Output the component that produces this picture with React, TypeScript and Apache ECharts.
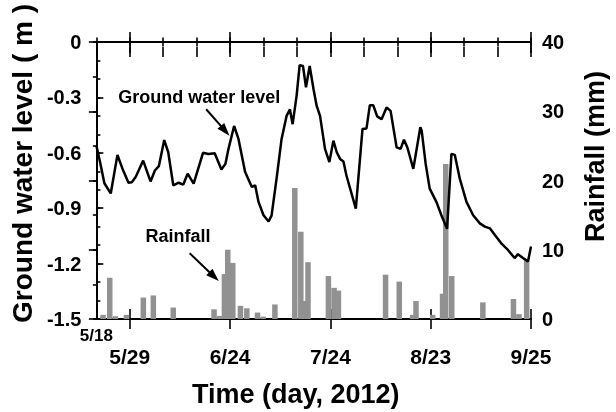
import React, { useEffect, useRef } from 'react';
import * as echarts from 'echarts';

// ---- data (day index from 5/18, 2012) ----
const gwlDay = [
  0, 1.1, 2.4, 4.3, 6.3, 8.0, 9.6, 10.6, 11.8, 14.0, 16.2, 17.5, 18.7, 20.3, 21.5, 23.0, 24.6, 26.0, 27.3, 29.1,
  31.9, 33.5, 35.4, 37.4, 38.6, 39.5, 41.2, 42.5, 44.5, 46.5, 47.5, 48.5, 50.0, 51.5, 52.4, 53.9, 55.4, 56.9, 57.9,
  58.7, 59.9, 60.8, 61.8, 62.7, 63.8, 65.0, 65.9, 66.9, 68.4, 69.7, 70.9, 71.9, 72.9, 73.9, 74.8, 77.6, 79.6, 80.8,
  81.8, 82.8, 84.0, 85.3, 86.8, 88.0, 89.8, 91.0, 92.0, 93.0, 94.8, 96.9, 97.3, 98.5, 99.7, 101.7, 103.2, 104.9,
  106.2, 107.2, 108.7, 110.7, 112.7, 114.7, 116.2, 117.7, 119.2, 121.1, 123.1, 125.1, 126.1, 127.6, 129.1, 130,
];
const gwlLevel = [
  -0.56, -0.65, -0.765, -0.82, -0.612, -0.695, -0.762, -0.76, -0.73, -0.642, -0.755, -0.696, -0.672, -0.531, -0.597,
  -0.776, -0.762, -0.772, -0.713, -0.767, -0.6, -0.606, -0.602, -0.69, -0.66, -0.58, -0.455, -0.525, -0.704, -0.785,
  -0.776, -0.866, -0.938, -0.972, -0.94, -0.74, -0.525, -0.4, -0.365, -0.445, -0.29, -0.125, -0.13, -0.245, -0.13,
  -0.26, -0.346, -0.4, -0.58, -0.65, -0.534, -0.597, -0.633, -0.647, -0.723, -0.902, -0.471, -0.468, -0.342, -0.342,
  -0.403, -0.418, -0.355, -0.373, -0.57, -0.579, -0.529, -0.57, -0.687, -0.462, -0.48, -0.66, -0.794, -0.866, -0.938,
  -1.012, -0.606, -0.611, -0.74, -0.866, -0.938, -0.982, -1.0, -1.009, -1.045, -1.09, -1.126, -1.17, -1.149, -1.17,
  -1.188, -1.108,
];
const rainDay = [
  2.0, 4.0, 5.7, 9.0, 14.05, 17.04, 23.0, 35.2, 36.8, 38.3, 39.3, 40.8, 43.1, 45.0, 48.2, 49.9, 53.4, 59.35, 61.15,
  62.3, 63.3, 69.4, 71.1, 72.4, 86.5, 90.6, 94.6, 95.6, 100.6, 103.55, 104.5, 106.3, 115.6, 124.75, 126.4, 128.7,
];
const rainMm = [
  0.6, 5.95, 0.4, 0.6, 3.1, 3.4, 1.65, 1.4, 0.45, 6.5, 10.0, 8.1, 1.9, 1.55, 0.93, 0.35, 2.1, 18.9, 12.6,
  2.6, 8.2, 6.2, 4.5, 4.1, 6.4, 5.4, 0.6, 2.6, 0.6, 3.65, 22.4, 6.2, 2.4, 2.9, 0.7, 8.6,
];
const xMajorDays = [10, 40, 70, 100, 130];
const xMajorLabels = ['5/29', '6/24', '7/24', '8/23', '9/25'];
const xStartLabel = '5/18';
const dayCategories = Array.from({ length: 131 }, (_, i) => String(i));

// annotations: [text position], [arrow tail], [arrow tip] in data units
const gwlNoteText = 'Ground water level';
const gwlNotePos = [30.8, -0.3];
const gwlArrowTail = [32.85, -0.364];
const gwlArrowTip = [39.8, -0.507];
const rainNoteText = 'Rainfall';
const rainNotePos = [24.4, 12.0];
const rainArrowTail = [27.9, 9.5];
const rainArrowTip = [36.6, 5.47];

const FONT = '"Liberation Sans", Arial, Helvetica, sans-serif';

export default function App() {
  const ref = useRef<HTMLDivElement>(null);
  useEffect(() => {
    const chart = echarts.init(ref.current!, undefined, { renderer: 'svg' });
    const black = '#000';
    const lineAxis = { show: true, lineStyle: { color: black, width: 2 } };
    const noLine = { show: false };
    const noLabel = { show: false };
    const noSplit = { show: false };
    const tickStyle = { color: black, width: 1.6 };
    const xBase: any = { type: 'value', min: 0, max: 130, interval: 10, splitLine: noSplit };
    const majorTick = (i: number) => xMajorDays.indexOf(i) >= 0;
    const boldText = { color: black, fontWeight: 'bold', fontFamily: FONT };

    const option: any = {
      animation: false,
      grid: { left: 96, right: 84, top: 42, bottom: 91 },
      xAxis: [
        {
          ...xBase,
          position: 'bottom',
          axisLine: lineAxis,
          axisTick: { show: false },
          axisLabel: {
            ...boldText,
            margin: 27,
            fontSize: 21,
            showMinLabel: true,
            showMaxLabel: true,
            formatter: (v: number) => {
              const k = xMajorDays.indexOf(Math.round(v));
              return k >= 0 ? xMajorLabels[k] : '';
            },
          },
          name: 'Time (day, 2012)',
          nameLocation: 'middle',
          nameGap: 61,
          nameTextStyle: { ...boldText, fontSize: 27, padding: [0, 36, 0, 0] },
        },
        {
          ...xBase,
          position: 'bottom',
          offset: -5,
          axisLine: noLine,
          axisTick: { show: true, inside: false, length: 10, lineStyle: tickStyle },
          axisLabel: {
            ...boldText,
            margin: 13,
            fontSize: 17,
            showMinLabel: true,
            formatter: (v: number) => (Math.round(v) === 0 ? xStartLabel : ''),
          },
        },
        {
          type: 'category',
          data: dayCategories,
          boundaryGap: false,
          position: 'bottom',
          offset: -10,
          axisLine: noLine,
          axisTick: { show: true, inside: false, length: 20, interval: (i: number) => majorTick(i), lineStyle: tickStyle },
          axisLabel: noLabel,
        },
        {
          ...xBase,
          position: 'top',
          axisLine: lineAxis,
          axisTick: { show: false },
          axisLabel: noLabel,
        },
        {
          ...xBase,
          position: 'top',
          offset: -4.5,
          axisLine: noLine,
          axisTick: { show: true, inside: false, length: 9, lineStyle: tickStyle },
          axisLabel: noLabel,
        },
        {
          type: 'category',
          data: dayCategories,
          boundaryGap: false,
          position: 'top',
          offset: -11,
          axisLine: noLine,
          axisTick: { show: true, inside: false, length: 21, interval: (i: number) => majorTick(i), lineStyle: tickStyle },
          axisLabel: noLabel,
        },
      ],
      yAxis: [
        {
          type: 'value', min: -1.5, max: 0, interval: 0.1, position: 'left', splitLine: noSplit,
          axisLine: lineAxis,
          axisTick: { show: true, inside: true, length: 4, lineStyle: tickStyle },
          axisLabel: noLabel,
        },
        {
          type: 'value', min: -1.5, max: 0, interval: 0.3, position: 'left', splitLine: noSplit,
          axisLine: noLine,
          axisTick: { show: true, inside: true, length: 7, lineStyle: tickStyle },
          axisLabel: {
            ...boldText,
            margin: 15,
            fontSize: 20,
            showMinLabel: true,
            showMaxLabel: true,
            formatter: (v: number) => (Math.abs(v) < 1e-9 ? '0' : v.toFixed(1)),
          },
          name: 'Ground water level ( m )',
          nameLocation: 'middle',
          nameGap: 60,
          nameRotate: 90,
          nameTextStyle: { ...boldText, fontSize: 28, padding: [0, 0, 0, 34] },
        },
        {
          type: 'value', min: 0, max: 40, interval: 5, position: 'right', splitLine: noSplit,
          axisLine: lineAxis,
          axisTick: { show: true, inside: true, length: 3.5, lineStyle: tickStyle },
          axisLabel: noLabel,
        },
        {
          type: 'value', min: 0, max: 40, interval: 10, position: 'right', splitLine: noSplit,
          axisLine: noLine,
          axisTick: { show: true, inside: true, length: 7.5, lineStyle: tickStyle },
          axisLabel: { ...boldText, margin: 11, fontSize: 20, showMinLabel: true, showMaxLabel: true },
          name: 'Rainfall (mm)',
          nameLocation: 'middle',
          nameGap: 50,
          nameRotate: 90,
          nameTextStyle: { ...boldText, fontSize: 27, padding: [0, 0, 0, 48] },
        },
      ],
      series: [
        {
          type: 'bar',
          name: 'Rainfall',
          xAxisIndex: 0,
          yAxisIndex: 2,
          barWidth: 5.5,
          itemStyle: { color: '#919191' },
          data: rainDay.map((d, i) => [d, rainMm[i]]),
          z: 1,
        },
        {
          type: 'line',
          name: 'Ground water level',
          xAxisIndex: 0,
          yAxisIndex: 0,
          showSymbol: false,
          symbol: 'none',
          lineStyle: { color: black, width: 2.5 },
          data: gwlDay.map((d, i) => [d, gwlLevel[i]]),
          z: 3,
        },
      ],
    };
    chart.setOption(option);

    const toPx = (p: number[], yIdx: number) =>
      chart.convertToPixel({ xAxisIndex: 0, yAxisIndex: yIdx }, p) as number[];
    const arrow = (tailD: number[], tipD: number[], yIdx: number) => {
      const t = toPx(tailD, yIdx);
      const p = toPx(tipD, yIdx);
      const dx = p[0] - t[0];
      const dy = p[1] - t[1];
      const len = Math.sqrt(dx * dx + dy * dy);
      const ux = dx / len;
      const uy = dy / len;
      const hl = 13;
      const hw = 4.5;
      const bx = p[0] - ux * hl;
      const by = p[1] - uy * hl;
      return [
        {
          type: 'line',
          shape: { x1: t[0], y1: t[1], x2: bx + ux * 2, y2: by + uy * 2 },
          style: { stroke: black, lineWidth: 2 },
          z: 10,
        },
        {
          type: 'polygon',
          shape: { points: [[p[0], p[1]], [bx - uy * hw, by + ux * hw], [bx + uy * hw, by - ux * hw]] },
          style: { fill: black },
          z: 10,
        },
      ];
    };
    const label = (text: string, posD: number[], yIdx: number) => {
      const c = toPx(posD, yIdx);
      return {
        type: 'text',
        x: c[0],
        y: c[1],
        style: {
          text,
          fill: black,
          font: `bold 18px ${FONT}`,
          textAlign: 'center',
          textVerticalAlign: 'middle',
        },
        z: 10,
      };
    };
    chart.setOption({
      graphic: [
        label(gwlNoteText, gwlNotePos, 0),
        ...arrow(gwlArrowTail, gwlArrowTip, 0),
        label(rainNoteText, rainNotePos, 2),
        ...arrow(rainArrowTail, rainArrowTip, 2),
      ],
    });

    return () => chart.dispose();
  }, []);

  return <div ref={ref} style={{ position: 'fixed', left: 0, top: 0, width: 616, height: 412 }} />;
}
